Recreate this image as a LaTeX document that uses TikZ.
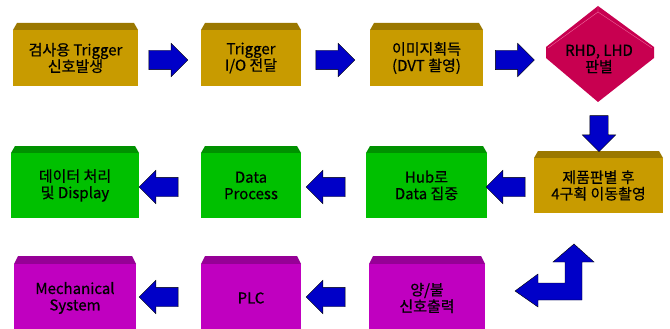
\documentclass[tikz,border=0pt]{standalone}
\usepackage{fontspec}
\setmainfont{Noto Sans CJK KR}
\newfontfamily\boxfont{Noto Sans CJK KR}[FakeBold=0.6]
\usetikzlibrary{shapes.arrows}

\definecolor{goldface}{RGB}{200,155,0}
\definecolor{goldcap}{RGB}{155,120,0}
\definecolor{greenface}{RGB}{0,192,0}
\definecolor{greencap}{RGB}{0,145,0}
\definecolor{magface}{RGB}{192,0,192}
\definecolor{magcap}{RGB}{150,0,150}
\definecolor{judgered}{RGB}{200,0,80}
\definecolor{facetpink}{RGB}{240,110,160}
\definecolor{arrowblue}{RGB}{0,0,200}

\tikzset{
  boxface/.style={rectangle, draw=none, inner sep=0pt, outer sep=0pt,
    align=center, text=black, font=\boxfont\fontsize{15}{16.5}\selectfont},
  blockarrow/.style={single arrow, draw=black, line width=0.4pt, fill=arrowblue,
    inner xsep=0pt, inner ysep=9.5pt, minimum height=39pt,
    single arrow head extend=7pt, outer sep=0pt},
  elbowarrow/.style={draw=black, line width=0.4pt, fill=arrowblue},
}

% process block with a bevelled top: name, left, right, cap top, face top, bottom, face colour, cap colour, text
\newcommand{\capbox}[9]{%
  \fill[#8] (#2+4,#4) -- (#3-4,#4) -- (#3,#5) -- (#2,#5) -- cycle;
  \node[boxface, fill=#7, minimum width={(#3-#2)*1pt}, minimum height={(#6-#5)*1pt},
        anchor=north west] (#1) at (#2,#5) {#9};
}

\begin{document}
\begin{tikzpicture}[x=1pt,y=-1pt]
  \clip (0,0) rectangle (670,329);
  \fill[white] (0,0) rectangle (670,329);

  % first row
  \capbox{trig}{13}{138}{23}{30}{86}{goldface}{goldcap}{검사용 Trigger\\신호발생}
  \capbox{io}{201}{301}{23}{30}{86}{goldface}{goldcap}{Trigger\\I/O 전달}
  \capbox{img}{370}{483}{23}{30}{86}{goldface}{goldcap}{이미지획득\\(DVT 촬영)}

  % decision
  \fill[judgered] (598,6) -- (654,47) -- (654,58) -- (598,102) -- (546,58) -- (546,47) -- cycle;
  \draw[facetpink, line width=0.4pt] (598,6) -- (598,12) (548,48) -- (598,12) -- (652,48);
  \node[boxface] (judge) at (599,59) {RHD, LHD\\판별};

  % second row
  \capbox{move}{534}{663}{151}{158}{213}{goldface}{goldcap}{제품판별 후\\4구획 이동촬영}
  \capbox{hub}{366}{487}{146}{153}{218}{greenface}{greencap}{Hub로\\Data 집중}
  \capbox{proc}{201}{301}{146}{153}{218}{greenface}{greencap}{Data\\Process}
  \capbox{disp}{11}{139}{146}{153}{218}{greenface}{greencap}{데이터 처리\\및 Display}

  % third row
  \capbox{sig}{369}{485}{256}{264}{332}{magface}{magcap}{양/불\\신호출력}
  \capbox{plc}{201}{301}{256}{264}{332}{magface}{magcap}{PLC}
  \capbox{mech}{14}{136}{256}{264}{332}{magface}{magcap}{Mechanical\\System}

  % block arrows between the steps
  \node[blockarrow] (a1) at (163.5,60) {};
  \node[blockarrow] (a2) at (330.5,60) {};
  \node[blockarrow] (a3) at (510,60) {};
  \node[blockarrow, shape border rotate=270, minimum height=36pt,
        inner xsep=9pt, inner ysep=0pt, single arrow head extend=7.5pt] (a4) at (599,129) {};
  \node[blockarrow, shape border rotate=180] (a5) at (510.5,187) {};
  \node[blockarrow, shape border rotate=180] (a6) at (330.5,187) {};
  \node[blockarrow, shape border rotate=180] (a7) at (163.5,187) {};
  \node[blockarrow, shape border rotate=180] (a8) at (330.5,297) {};
  \node[blockarrow, shape border rotate=180] (a9) at (163.5,297) {};

  % bent return arrow
  \draw[elbowarrow] (574,244) -- (594,262) -- (582,262) -- (582,300) -- (538,300)
    -- (538,307) -- (515,291) -- (538,274) -- (538,283) -- (565,283) -- (565,262)
    -- (553,262) -- cycle;
\end{tikzpicture}
\end{document}
